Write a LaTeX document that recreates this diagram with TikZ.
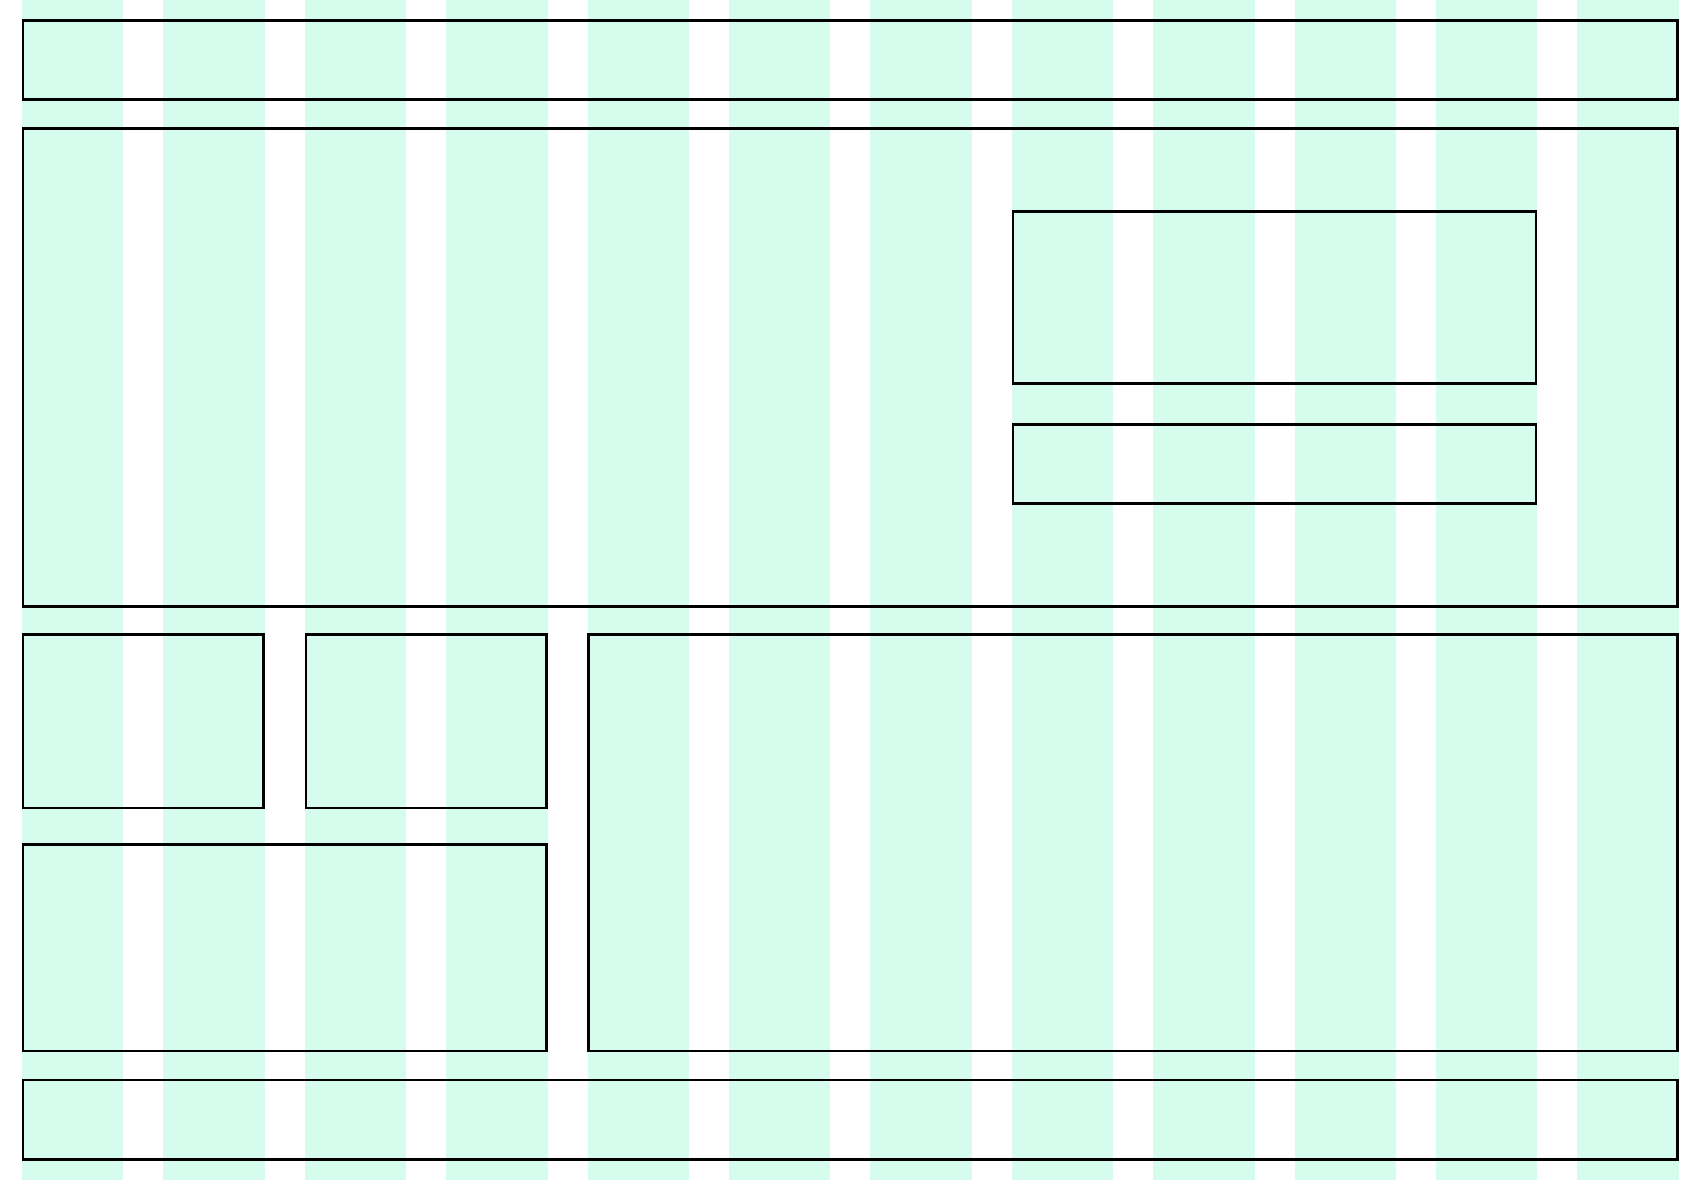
\documentclass[tikz,border=0pt]{standalone}
\usepackage{tikz}
\definecolor{stripe}{RGB}{214,252,238}
\tikzset{
  colstripe/.style={fill=stripe, draw=none},
  layoutbox/.style={draw=black, line width=2.6pt, fill=none}
}
\begin{document}
\begin{tikzpicture}[x=1pt,y=-1pt]
\useasboundingbox (0,0) rectangle (1702,1180);
% column stripes
\foreach \i in {0,...,11}{
  \fill[stripe] ({22+141.4*\i},0) rectangle ({22+141.4*\i+101.3},1180);
}
% header
\draw[layoutbox] (23.1,20.3) rectangle (1677.5,99.7);
% main
\draw[layoutbox] (23.1,128.7) rectangle (1677.5,606.5);
\draw[layoutbox] (1012.9,211.7) rectangle (1536.1,383.3);
\draw[layoutbox] (1012.9,424.3) rectangle (1536.1,503.3);
% lower row
\draw[layoutbox] (23.1,634.5) rectangle (263.5,808);
\draw[layoutbox] (305.9,634.5) rectangle (546.3,808);
\draw[layoutbox] (23.1,844.5) rectangle (546.3,1051);
\draw[layoutbox] (588.7,634.5) rectangle (1677.5,1051);
% footer
\draw[layoutbox] (23.1,1080) rectangle (1677.5,1159.3);
\end{tikzpicture}
\end{document}
